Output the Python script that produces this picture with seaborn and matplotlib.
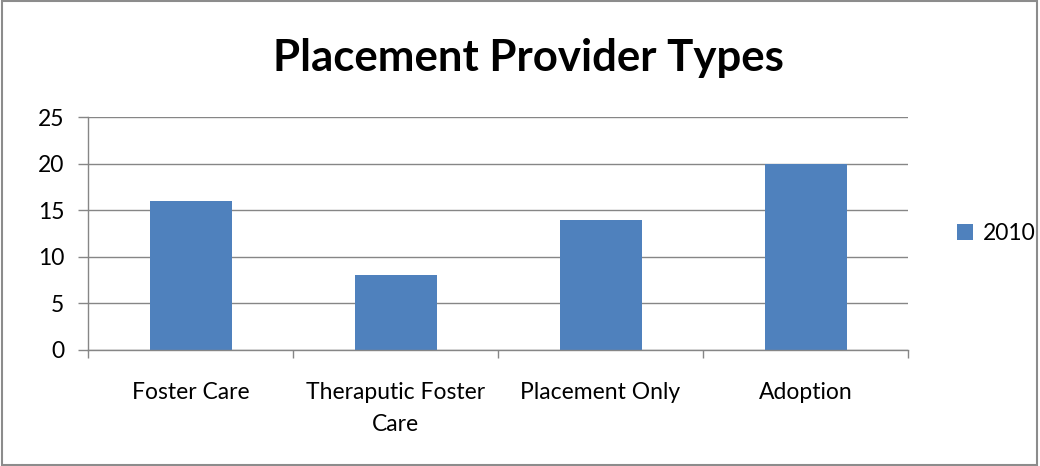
import matplotlib
matplotlib.use('Agg')
import matplotlib.pyplot as plt
import seaborn as sns
import pandas as pd
from matplotlib.patches import Rectangle

# data
categories = ['Foster Care', 'Theraputic Foster\nCare', 'Placement Only', 'Adoption']
values_2010 = [16, 8, 14, 20]
series = ['2010'] * 4

df = pd.DataFrame({'type': categories, 'count': values_2010, 'year': series})

sns.set_theme(style='white')
plt.rcParams['font.family'] = ['Lato', 'DejaVu Sans']
plt.rcParams['text.color'] = 'black'

fig = plt.figure(figsize=(10.4, 4.66), dpi=100)
ax = fig.add_axes([88 / 1040, 1 - 350 / 466, 820 / 1040, 233 / 466])

sns.barplot(data=df, x='type', y='count', hue='year', palette=['#4F81BD'],
            width=0.4, ax=ax, saturation=1, linewidth=0)

ax.set_xlim(-0.5, 3.5)
ax.set_ylim(0, 25)
ax.set_yticks([0, 5, 10, 15, 20, 25])
ax.yaxis.grid(True, color='#868686', linewidth=1)
ax.set_axisbelow(True)
for s in ['top', 'right']:
    ax.spines[s].set_visible(False)
for s in ['left', 'bottom']:
    ax.spines[s].set_color('#868686')
    ax.spines[s].set_linewidth(1)

ax.set_xticks([-0.5, 0.5, 1.5, 2.5, 3.5], minor=True)
ax.tick_params(axis='x', which='major', length=0, pad=23, labelsize=16.5, colors='black')
ax.tick_params(axis='x', which='minor', bottom=True, length=6, color='#868686', width=1,
               direction='out')
ax.tick_params(axis='y', which='major', left=True, length=7, color='#868686', width=1,
               direction='out', labelsize=16.5, pad=10, labelcolor='black')
for lbl in ax.get_xticklabels():
    lbl.set_linespacing(1.65)
ax.set_xlabel('')
ax.set_ylabel('')

fig.suptitle('Placement Provider Types', x=0.508, y=0.918, fontsize=31.5,
             fontweight='bold', color='black')

ax.legend(loc='center left', bbox_to_anchor=(1.035, 0.5), frameon=False,
          handlelength=0.7, handleheight=0.7, handletextpad=0.4, fontsize=16.5)

fig.patches.append(Rectangle((0.002, 0.003), 0.995, 0.994, transform=fig.transFigure,
                             fill=False, edgecolor='#8c8c8c', linewidth=1.5))

fig.savefig('out.png', dpi=100)
